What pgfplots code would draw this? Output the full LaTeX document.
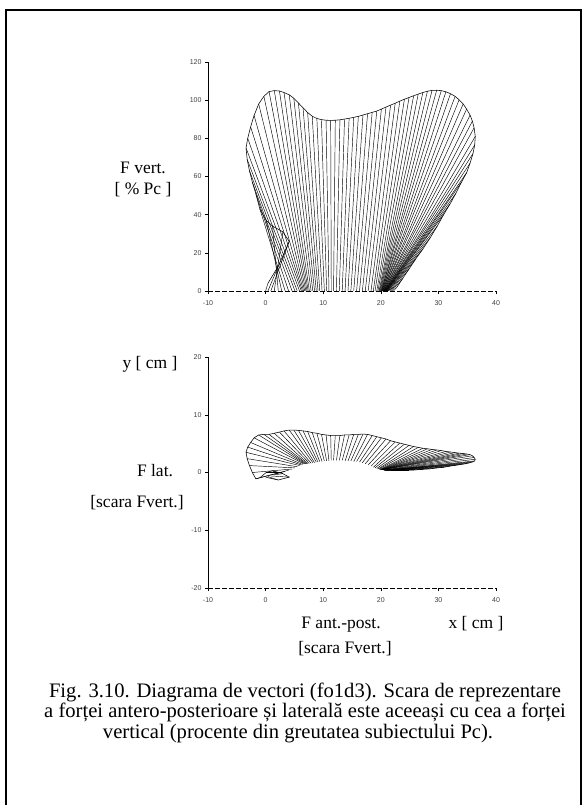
\documentclass[border=0pt]{standalone}
\usepackage{fontspec}
\setmainfont{Liberation Serif}
\newfontfamily\ticksans{Liberation Sans}
\usepackage{pgfplots}
\usepackage{pgfplotstable}
\pgfplotsset{compat=1.18}

% Force vectors during stance: centre of pressure (cx, cy, ground gz),
% vector tip in the sagittal plane (tx, tz) and in the horizontal plane (tx, ty)
\pgfplotstableread{
cx   cy   tx    tz    ty    gz
0.0  -0.8 0.4   4     -0.9  0
0.4  -0.7 2.2   13    -1.3  0
0.9  -0.6 4.1   26    -0.8  0
1.5  -0.4 3.0   31    -0.2  0
2.2  -0.2 1.2   34    0.3   0
2.8  0.0  0.1   37    0.0   0
3.4  0.2  -1.0  43    -0.9  0
4.0  0.4  -1.7  51    -1.1  0
4.6  0.6  -2.3  57    0.0   0
5.1  0.8  -2.8  63    1.2   0
5.5  1.0  -3.2  69    2.4   0
5.9  1.2  -3.4  75    3.5   0
6.2  1.3  -3.1  80    4.4   0
6.4  1.4  -2.6  86    5.2   0
6.6  1.5  -2.0  92    6.0   0
6.8  1.5  -1.2  98    6.5   0
7.0  1.5  -0.3  102   6.6   0
7.2  1.5  0.6   104.5 6.6   0
7.4  1.5  1.5   105   6.8   0
7.6  1.6  2.4   104.8 7.0   0
7.9  1.6  3.2   104   7.2   0
8.2  1.7  4.1   102.8 7.35  0
8.5  1.7  4.9   101   7.35  0
8.8  1.8  5.7   98.5  7.3   0
9.1  1.8  6.5   96    7.2   0
9.4  1.9  7.3   93.5  7.1   0
9.8  1.9  8.1   91.6  6.9   0
10.2 2.0  8.9   90.4  6.8   0
10.6 2.0  9.7   89.8  6.6   0
11.0 2.0  10.5  89.5  6.5   0
11.4 2.1  11.3  89.4  6.4   0
11.8 2.1  12.1  89.5  6.4   0
12.3 2.1  12.9  89.7  6.4   0
12.8 2.1  13.7  90.1  6.5   0
13.3 2.1  14.5  90.5  6.5   0
13.8 2.0  15.3  91.0  6.6   0
14.3 2.0  16.1  91.5  6.6   0
14.8 2.0  16.9  92.2  6.65  0
15.3 1.9  17.7  92.9  6.6   0
15.8 1.9  18.5  93.6  6.4   0
16.3 1.8  19.3  94.3  6.2   0
16.8 1.7  20.1  95.3  6.0   0
17.3 1.5  20.9  96.4  5.8   0
17.8 1.3  21.7  97.4  5.5   0
18.3 1.1  22.5  98.4  5.3   0
18.7 0.9  23.3  99.5  5.1   0
19.0 0.8  24.1  100.5 4.9   0
19.3 0.7  24.9  101.4 4.7   0
19.5 0.6  25.7  102.3 4.5   0
19.7 0.6  26.5  103.2 4.35  0
19.8 0.5  27.3  104.0 4.2   0
19.9 0.5  28.1  104.7 4.1   0
20.0 0.5  28.9  105.1 4.0   0
20.1 0.5  29.7  105.2 3.9   0
20.1 0.5  30.5  105.0 3.8   0
20.2 0.5  31.3  104.4 3.65  0
20.2 0.5  32.1  103.4 3.55  0
20.3 0.5  32.9  102.0 3.45  0
20.3 0.5  33.6  100.2 3.35  0
20.4 0.5  34.3  98.0  3.3   0
20.4 0.5  34.9  95.3  3.2   0
20.5 0.5  35.5  92.2  3.1   0
20.5 0.4  35.9  89.0  2.9   0
20.6 0.4  36.2  85.5  2.6   0
20.6 0.4  36.4  81.0  2.3   0
20.7 0.4  36.3  76.5  2.0   0
20.7 0.4  36.0  72.0  1.85  0
20.8 0.4  35.5  67.0  1.7   0
20.8 0.4  34.9  62.0  1.55  0
20.9 0.4  34.0  57.0  1.4   0
20.9 0.4  33.0  51.0  1.25  0
21.0 0.4  32.0  45.5  1.1   0
21.0 0.4  30.9  40.0  0.9   0
21.1 0.4  29.8  34.0  0.8   0
21.2 0.4  28.6  28.0  0.65  0
21.3 0.4  27.3  22.0  0.55  0
21.5 0.4  26.0  16.5  0.45  0
21.7 0.4  24.9  11.5  0.4   0
21.9 0.4  23.8  6.5   0.4   0
22.2 0.4  22.8  2.0   0.4   0
}\vectors

\pgfplotsset{
  vecaxis/.style={
    scale only axis, width=288pt,
    xmin=-10, xmax=40, xtick={-10,0,10,20,30,40},
    xticklabels={-10,0,10,20,30,40},
    axis x line*=bottom, axis y line*=left,
    tick align=outside, major tick length=3pt,
    tick style={black, line width=0.5pt},
    ticklabel style={font=\ticksans\fontsize{7}{8}\selectfont, text=black!75},
    xticklabel style={yshift=-3pt},
    x axis line style={line width=0.5pt, dash pattern=on 5pt off 2pt},
    y axis line style={line width=0.6pt},
    clip=false, anchor=south west,
  },
  vec/.style={black, line width=0.45pt, no markers},
  env/.style={black, line width=0.55pt, no markers},
}

\begin{document}
\begin{tikzpicture}
\begin{scope}[x=1pt,y=1pt]
  \path[use as bounding box] (0,0) rectangle (587,-805);
  \draw[line width=1.2pt] (6,-805) -- (6,-10) -- (581,-10) -- (581,-805);
\end{scope}

% sagittal plane: vertical vs antero-posterior force
\begin{axis}[vecaxis, at={(208pt,-291pt)}, height=229pt,
    ymin=0, ymax=120, ytick={0,20,40,60,80,100,120},
    yticklabels={0,20,40,60,80,100,120}]
  \addplot[vec, quiver={u=\thisrow{tx}-\thisrow{cx}, v=\thisrow{tz}}]
    table[x=cx, y=gz] {\vectors};
  \addplot[env] table[x=tx, y=tz] {\vectors};
\end{axis}

% horizontal plane: lateral vs antero-posterior force
\begin{axis}[vecaxis, at={(208pt,-588pt)}, height=231pt,
    ymin=-20, ymax=20, ytick={-20,-10,0,10,20},
    yticklabels={-20,-10,0,10,20}]
  \addplot[vec, quiver={u=\thisrow{tx}-\thisrow{cx}, v=\thisrow{ty}-\thisrow{cy}}]
    table[x=cx, y=cy] {\vectors};
  \addplot[env] table[x=tx, y=ty] {\vectors};
\end{axis}

\begin{scope}[x=1pt,y=1pt,every node/.style={font=\fontsize{17.5}{19}\selectfont, inner sep=0pt, anchor=base}]
  \node at (143,-174) {F vert.};
  \node at (143,-194) {[ \% Pc ]};
  \node at (150,-368) {y [ cm ]};
  \node at (155,-476) {F lat.};
  \node at (137,-507) {[scara Fvert.]};
  \node at (341,-628) {F ant.-post.};
  \node at (476,-628) {x [ cm ]};
  \node at (345,-653) {[scara Fvert.]};
\end{scope}

\begin{scope}[x=1pt,y=1pt,every node/.style={font=\fontsize{20.6}{22}\selectfont, inner sep=0pt, anchor=base}]
  \node at (305,-697) {Fig. 3.10. Diagrama de vectori (fo1d3). Scara de reprezentare};
  \node at (305,-717) {a forței antero-posterioare și laterală este aceeași cu cea a forței};
  \node at (298,-738) {vertical (procente din greutatea subiectului Pc).};
\end{scope}
\end{tikzpicture}
\end{document}
